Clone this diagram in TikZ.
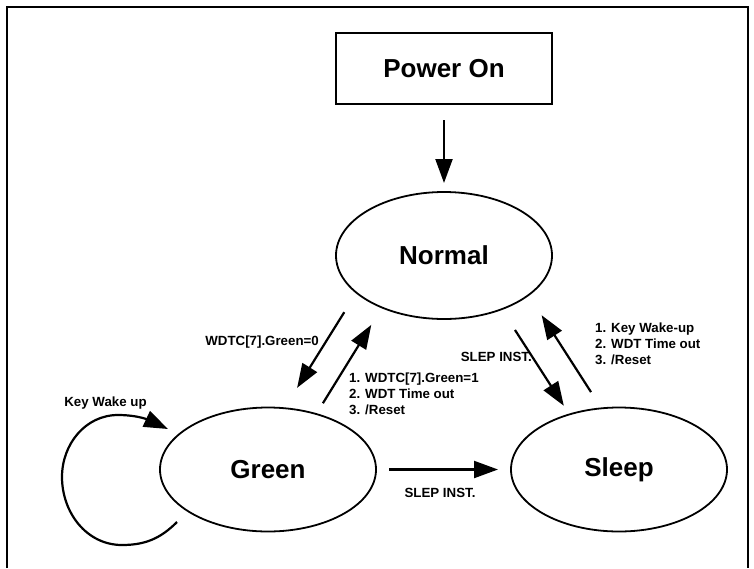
\documentclass[tikz,border=0pt]{standalone}
\usepackage{fontspec}
\setmainfont{Liberation Sans}
\usetikzlibrary{arrows.meta,shapes.geometric}

\definecolor{color1}{RGB}{255,255,255}
\definecolor{color2}{RGB}{0,0,0}

\tikzset{
	statenode/.style={ellipse, draw=color2, line width=1.8pt, inner sep=0pt, outer sep=0pt, minimum width=216pt, minimum height=124pt, font=\fontsize{26}{30}\selectfont\bfseries},
	boxnode/.style={rectangle, draw=color2, line width=1.8pt, inner sep=0pt, outer sep=0pt, minimum width=216pt, minimum height=71pt, font=\fontsize{26}{30}\selectfont\bfseries},
	lbl/.style={inner sep=0pt, align=left, font=\fontsize{13.3}{16}\selectfont\bfseries},
	arr/.style={color=color2, line width=2.2pt, -{Triangle[length=24pt, width=17pt]}}
}

\begin{document}
\begin{tikzpicture}[x=1pt, y=1pt]
	\useasboundingbox[fill=color1] (0,0) rectangle (754,-568);
	% frame
	\draw[color=color2, line width=2.2pt] (7,-568) -- (7,-7) -- (748,-7) -- (748,-568);
	% states
	\node[boxnode] (power) at (444,-68.5) {Power On};
	\node[statenode, minimum height=127pt] (normal) at (444,-255.5) {Normal};
	\node[statenode] (green) at (268,-469.5) {Green};
	\node[statenode] (sleep) at (619,-469.5) {Sleep};
	\coordinate (loopstart) at (177,-522);
	\coordinate (loopend) at (168,-429);
	% transitions
	\draw[arr, shorten <=16pt, shorten >=9pt] (power.south) -- (normal.north);
	\draw[arr, shorten <=23pt, shorten >=24pt] (normal.203.7) -- (green.75.3);
	\draw[arr, shorten <=12.7pt, shorten >=20.4pt] (green.49.8) -- (normal.220.9);
	\draw[arr, shorten <=24.7pt, shorten >=10.3pt] (normal.317.2) -- (sleep.132.7);
	\draw[arr, shorten <=19.3pt, shorten >=24.1pt] (sleep.106) -- (normal.335.3);
	\draw[arr, shorten <=13pt, shorten >=13pt] (green.east) -- (sleep.west);
	\draw[arr] (loopstart) to[out=-135, in=0] (122,-545) to[out=180, in=-90] (62,-477) to[out=90, in=180] (118,-415) to[out=0, in=155] (loopend);
	% labels
	\node[lbl, anchor=east] (lgreenoff) at (319,-342.5) {WDTC[7].Green=0};
	\node[lbl, anchor=west] (lgreenon) at (349,-393.5) {1. WDTC[7].Green=1\\2. WDT Time out\\3. /Reset};
	\node[lbl, anchor=east] (lsleepin) at (532,-357) {SLEP INST.};
	\node[lbl, anchor=west] (lwake) at (595,-343.5) {1. Key Wake-up\\2. WDT Time out\\3. /Reset};
	\node[lbl] (lsleepgreen) at (440,-493) {SLEP INST.};
	\node[lbl] (lkey) at (105.5,-403) {Key Wake up};
\end{tikzpicture}
\end{document}
